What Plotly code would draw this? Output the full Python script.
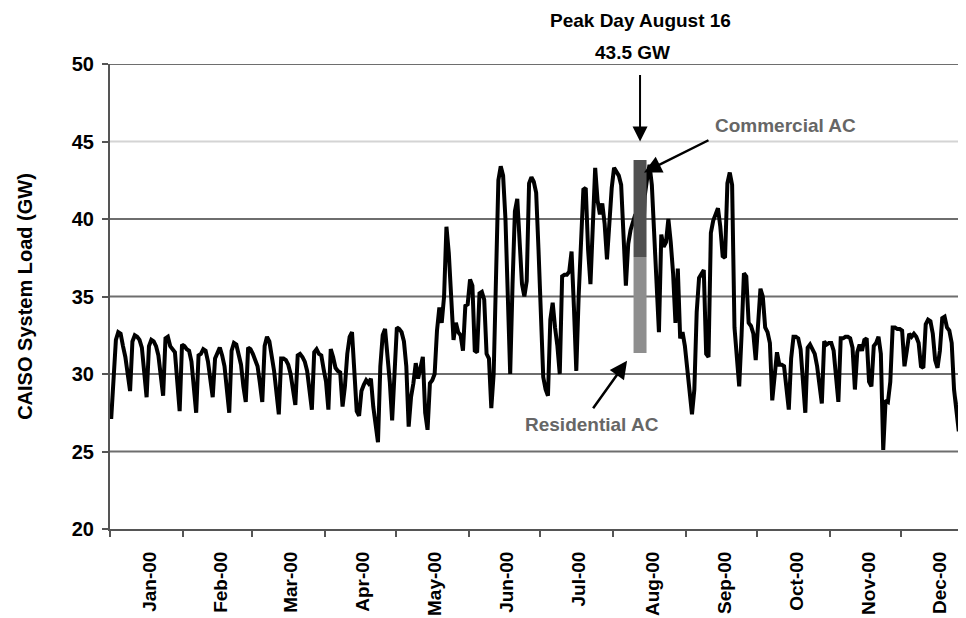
import plotly.graph_objects as go
import pandas as pd

# ---- daily CAISO system load, year 2000 (GW) ----
jan = [27.1, 29.3, 32.2, 32.7, 32.6, 31.8, 31.1, 30.0, 28.9, 32.1, 32.5, 32.4, 32.2, 31.7, 30.0, 28.5,
       31.8, 32.2, 32.1, 31.8, 31.2, 29.8, 28.6, 32.3, 32.4, 31.8, 31.6, 31.4, 29.5, 27.6, 31.9]
feb = [31.8, 31.6, 31.5, 30.8, 29.0, 27.5, 31.2, 31.3, 31.6, 31.5, 30.8, 29.5, 28.5, 31.0, 31.4,
       31.7, 31.2, 30.5, 29.0, 27.5, 31.5, 32.0, 31.9, 31.3, 30.6, 29.2, 28.2, 31.7, 31.6]
mar = [31.3, 30.9, 30.5, 29.4, 28.2, 31.8, 32.4, 32.1, 31.2, 30.2, 28.8, 27.4, 31.0, 31.0, 30.9, 30.6,
       30.0, 29.0, 28.0, 31.2, 31.3, 31.1, 30.8, 30.2, 28.9, 27.7, 31.4, 31.6, 31.3, 31.2, 30.3]
apr = [29.5, 27.7, 31.6, 31.1, 30.4, 30.2, 30.1, 27.9, 29.2, 31.3, 32.4, 32.7, 29.8, 27.6, 27.3,
       28.9, 29.3, 29.6, 29.4, 29.7, 27.9, 26.8, 25.6, 30.5, 32.5, 32.9, 31.5, 29.5, 27.0, 29.5]
may = [33.0, 32.9, 32.7, 32.1, 30.5, 26.6, 28.5, 29.4, 30.7, 29.7, 30.5, 31.1, 27.5, 26.4, 29.4, 29.6,
       30.0, 32.8, 34.3, 33.3, 35.0, 39.5, 37.8, 34.8, 32.2, 33.3, 32.7, 32.5, 31.5, 34.4, 34.5]
jun = [36.1, 35.7, 31.5, 31.4, 35.2, 35.3, 34.8, 31.3, 31.0, 27.8, 30.0, 36.5, 42.5, 43.4, 42.8,
       40.0, 34.5, 30.0, 35.8, 40.5, 41.3, 38.5, 35.8, 35.0, 36.0, 42.3, 42.7, 42.4, 41.7, 38.0]
jul = [33.3, 29.8, 29.0, 28.6, 33.5, 34.6, 33.0, 31.8, 30.0, 36.3, 36.4, 36.4, 36.6, 37.9, 34.3, 30.2,
       35.0, 39.0, 41.9, 42.0, 38.0, 35.8, 38.9, 43.3, 41.2, 40.3, 41.0, 39.7, 37.4, 40.0, 42.0]
aug = [43.3, 43.0, 42.8, 42.2, 39.5, 35.7, 38.4, 39.3, 39.8, 40.3, 40.0, 38.0, 37.5, 41.5, 42.6, 43.5,
       42.2, 38.9, 35.2, 32.7, 39.0, 38.2, 38.5, 40.0, 38.5, 36.5, 33.3, 36.8, 32.3, 32.7, 31.8]
sep = [30.3, 28.5, 27.4, 29.0, 34.0, 36.2, 36.5, 36.7, 31.3, 31.1, 39.1, 39.9, 40.3, 40.7, 39.5,
       37.6, 37.5, 42.3, 43.0, 42.2, 33.0, 30.7, 29.2, 32.5, 36.5, 36.3, 33.3, 33.1, 32.6, 30.9]
oct = [33.5, 35.5, 35.0, 33.0, 32.7, 32.0, 28.3, 30.0, 31.4, 30.6, 30.6, 30.5, 29.0, 27.7, 31.0, 32.4,
       32.4, 32.3, 31.6, 29.8, 27.5, 31.7, 31.9, 31.6, 31.3, 30.5, 29.0, 28.1, 32.1, 31.9, 32.0]
nov = [32.0, 31.5, 29.9, 28.2, 32.3, 32.3, 32.4, 32.4, 32.3, 31.7, 29.0, 31.4, 31.9, 31.5, 32.2,
       32.3, 29.5, 29.2, 31.8, 32.0, 32.4, 31.3, 25.1, 28.3, 28.2, 29.5, 33.0, 33.0, 32.9, 32.9]
dec = [32.8, 30.5, 31.5, 32.6, 32.4, 32.6, 32.4, 32.0, 30.5, 30.4, 33.2, 33.5, 33.4, 32.6, 30.9, 30.4,
       31.5, 33.6, 33.7, 33.0, 32.8, 32.0, 29.0, 27.7, 26.3, 30.7, 31.3, 31.4, 30.5, 29.5, 28.8]

load_gw = jan + feb + mar + apr + may + jun + jul + aug + sep + oct + nov + dec
start_day = "2000-01-01 12:00"

# peak-day air-conditioning bar (GW)
peak_label = "Peak Day August 16"
peak_gw = 43.5
ac_bar_center = "2000-08-12 12:00"
ac_bar_halfwidth_hours = 66
ac_base = 31.35
residential_top = 37.55
commercial_top = 43.8

y_ticks = [20, 25, 30, 35, 40, 45, 50]
grid_values = [25, 30, 35, 40, 45, 50]

FONT = "Liberation Sans, Arial, sans-serif"

dates = pd.date_range(start_day, periods=len(load_gw), freq="D")
bc = pd.Timestamp(ac_bar_center)
hw = pd.Timedelta(hours=ac_bar_halfwidth_hours)
bl, br = bc - hw, bc + hw

fig = go.Figure()
fig.add_trace(go.Scatter(x=dates, y=load_gw, mode="lines",
                         line=dict(color="black", width=4), showlegend=False,
                         hoverinfo="x+y"))
fig.add_trace(go.Scatter(x=[bl, br, br, bl, bl],
                         y=[ac_base, ac_base, residential_top, residential_top, ac_base],
                         mode="lines", fill="toself", fillcolor="#8e8e8e",
                         line=dict(width=0, color="#8e8e8e"), showlegend=False,
                         name="Residential AC"))
fig.add_trace(go.Scatter(x=[bl, br, br, bl, bl],
                         y=[residential_top, residential_top, commercial_top, commercial_top, residential_top],
                         mode="lines", fill="toself", fillcolor="#505050",
                         line=dict(width=0, color="#505050"), showlegend=False,
                         name="Commercial AC"))

shapes = []
for gv in grid_values:
    shapes.append(dict(type="line", xref="paper", x0=0, x1=1, yref="y", y0=gv, y1=gv,
                       line=dict(color="#d4d4d4" if gv == 45 else "#6e6e6e", width=2),
                       layer="below"))

tf_y = dict(family=FONT, size=20, color="black", weight="bold")
tf_x = dict(family=FONT, size=19, color="black", weight="bold")
ann_font = dict(family=FONT, size=19, color="black", weight="bold")
gray = "#666666"

annotations = [
    dict(xref="paper", yref="paper", x=0.6203, y=1.0946, xanchor="center", yanchor="middle",
         text=peak_label, showarrow=False, font=ann_font),
    dict(xref="paper", yref="paper", x=0.6104, y=1.0258, xanchor="center", yanchor="middle",
         text=f"{peak_gw} GW", showarrow=False, font=ann_font),
    dict(x=bc, y=45.0, xref="x", yref="y", text="", showarrow=True, ax=0, ay=-68,
         arrowhead=2, arrowsize=1.5, arrowwidth=2, arrowcolor="black"),
    dict(x="2000-08-14 04:00", y=43.0, xref="x", yref="y", text="", showarrow=True, ax=66, ay=-33,
         arrowhead=2, arrowsize=1.4, arrowwidth=2.5, arrowcolor="black"),
    dict(xref="paper", yref="paper", x=0.7886, y=0.8688, xanchor="center", yanchor="middle",
         text="Commercial AC", showarrow=False, font=dict(ann_font, color=gray)),
    dict(x="2000-08-07 00:00", y=30.85, xref="x", yref="y", text="", showarrow=True, ax=-35, ay=49,
         arrowhead=2, arrowsize=1.4, arrowwidth=2.5, arrowcolor="black"),
    dict(xref="paper", yref="paper", x=0.5625, y=0.2237, xanchor="center", yanchor="middle",
         text="Residential AC", showarrow=False, font=dict(ann_font, color=gray)),
]

# the page body adds an 8 px margin, so the figure is 8 px smaller on each side
fig.update_layout(
    width=958, height=610,
    margin=dict(l=102, r=0, t=56, b=89, autoexpand=False),
    paper_bgcolor="white", plot_bgcolor="white",
    font=dict(family=FONT),
    shapes=shapes, annotations=annotations,
    xaxis=dict(type="date", range=["2000-01-01", "2000-12-28 13:30"],
               tick0="2000-01-01", dtick="M1", tickformat="%b-%y",
               ticklabelmode="period", tickangle=-90, ticklabelshift=3, ticklabelstandoff=7,
               ticks="outside", ticklen=6, tickwidth=1.5, tickcolor="#555555",
               showline=True, linecolor="#555555", linewidth=2, automargin=False,
               showgrid=False, zeroline=False, tickfont=tf_x),
    yaxis=dict(range=[20, 50], tickvals=y_ticks, ticks="outside", ticklen=6, tickwidth=1.5,
               tickcolor="#555555", showline=True, linecolor="#555555", linewidth=2,
               showgrid=False, zeroline=False, tickfont=tf_y, ticklabelstandoff=4,
               automargin=False,
               title=dict(text="CAISO System Load (GW)", font=tf_y, standoff=34)),
)

fig.write_html("out.html")
